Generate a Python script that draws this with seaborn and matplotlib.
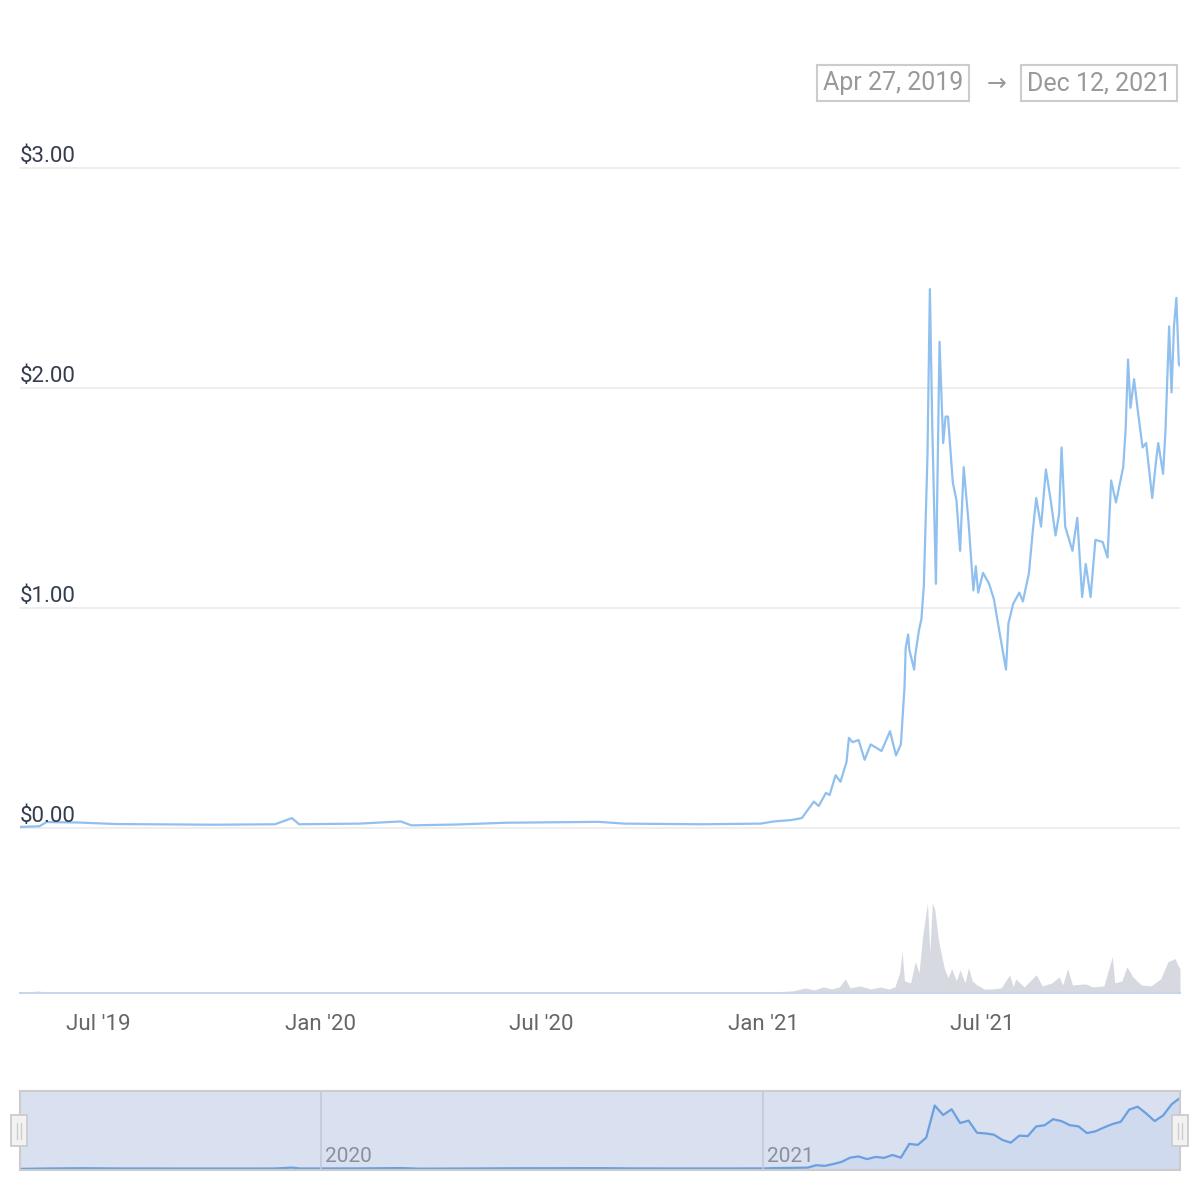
import matplotlib.pyplot as plt
import matplotlib.dates as mdates
import matplotlib.transforms as mtransforms
from matplotlib.patches import Rectangle
from matplotlib.lines import Line2D
import pandas as pd
import seaborn as sns

# price (USD)
price_dates = [
    "2019-04-27", "2019-05-13", "2019-05-19", "2019-06-14", "2019-07-16", "2019-10-05",
    "2019-11-24", "2019-12-08", "2019-12-14", "2020-02-02", "2020-03-07", "2020-03-16",
    "2020-04-23", "2020-06-02", "2020-08-18", "2020-09-08", "2020-11-11", "2020-12-30",
    "2021-01-10", "2021-01-24", "2021-02-02", "2021-02-12", "2021-02-16", "2021-02-22",
    "2021-02-25", "2021-03-02", "2021-03-06", "2021-03-11", "2021-03-13", "2021-03-16",
    "2021-03-21", "2021-03-26", "2021-03-31", "2021-04-09", "2021-04-16", "2021-04-21",
    "2021-04-25", "2021-04-28", "2021-04-29", "2021-05-01", "2021-05-02", "2021-05-06",
    "2021-05-07", "2021-05-10", "2021-05-12", "2021-05-14", "2021-05-17", "2021-05-19",
    "2021-05-21", "2021-05-24", "2021-05-27", "2021-05-30", "2021-06-01", "2021-06-03",
    "2021-06-07", "2021-06-10", "2021-06-13", "2021-06-16", "2021-06-20", "2021-06-24",
    "2021-06-26", "2021-06-28", "2021-07-02", "2021-07-07", "2021-07-11", "2021-07-15",
    "2021-07-21", "2021-07-23", "2021-07-27", "2021-08-01", "2021-08-04", "2021-08-09",
    "2021-08-12", "2021-08-15", "2021-08-19", "2021-08-23", "2021-08-27", "2021-08-31",
    "2021-09-03", "2021-09-05", "2021-09-08", "2021-09-14", "2021-09-18", "2021-09-22",
    "2021-09-25", "2021-09-29", "2021-10-03", "2021-10-09", "2021-10-13", "2021-10-16",
    "2021-10-20", "2021-10-26", "2021-10-28", "2021-10-30", "2021-11-01", "2021-11-04",
    "2021-11-07", "2021-11-11", "2021-11-14", "2021-11-19", "2021-11-22", "2021-11-24",
    "2021-11-28", "2021-11-30", "2021-12-03", "2021-12-05", "2021-12-07", "2021-12-09",
    "2021-12-11", "2021-12-12",
]
price_usd = [
    0.005, 0.008, 0.027, 0.025, 0.018, 0.015,
    0.017, 0.045, 0.017, 0.020, 0.030, 0.012,
    0.016, 0.024, 0.028, 0.020, 0.017, 0.020,
    0.030, 0.036, 0.045, 0.12, 0.10, 0.16,
    0.15, 0.24, 0.21, 0.30, 0.41, 0.39,
    0.40, 0.31, 0.38, 0.35, 0.44, 0.33,
    0.38, 0.64, 0.82, 0.88, 0.81, 0.72,
    0.79, 0.90, 0.95, 1.10, 1.69, 2.45,
    1.82, 1.11, 2.21, 1.75, 1.87, 1.87,
    1.57, 1.49, 1.26, 1.64, 1.39, 1.08,
    1.19, 1.07, 1.16, 1.11, 1.04, 0.91,
    0.72, 0.93, 1.02, 1.07, 1.03, 1.16,
    1.34, 1.50, 1.37, 1.63, 1.49, 1.33,
    1.43, 1.73, 1.37, 1.26, 1.41, 1.05,
    1.20, 1.05, 1.31, 1.30, 1.23, 1.58,
    1.48, 1.64, 1.81, 2.13, 1.91, 2.04,
    1.90, 1.73, 1.75, 1.50, 1.66, 1.75,
    1.61, 1.81, 2.28, 1.98, 2.28, 2.41,
    2.11, 2.10,
]

# 24h volume (USD millions)
vol_dates = [
    "2019-04-27", "2019-05-12", "2019-05-20", "2019-07-01", "2019-10-01", "2019-12-08",
    "2019-12-20", "2020-03-12", "2020-06-01", "2020-09-01", "2020-12-15",
    "2021-01-01", "2021-01-25", "2021-02-05", "2021-02-12", "2021-02-20", "2021-02-27",
    "2021-03-05", "2021-03-10", "2021-03-14", "2021-03-22", "2021-03-31", "2021-04-08",
    "2021-04-15", "2021-04-20", "2021-04-24", "2021-04-26", "2021-04-28", "2021-05-03",
    "2021-05-07", "2021-05-10", "2021-05-13", "2021-05-17", "2021-05-19", "2021-05-21",
    "2021-05-23", "2021-05-26", "2021-05-28", "2021-05-31", "2021-06-03", "2021-06-06",
    "2021-06-10", "2021-06-13", "2021-06-17", "2021-06-20", "2021-06-23", "2021-06-27",
    "2021-07-03", "2021-07-10", "2021-07-17", "2021-07-24", "2021-07-27", "2021-07-29",
    "2021-08-05", "2021-08-15", "2021-08-20", "2021-08-28", "2021-09-03", "2021-09-06",
    "2021-09-10", "2021-09-14", "2021-09-25", "2021-10-01", "2021-10-10", "2021-10-17",
    "2021-10-19", "2021-10-25", "2021-10-29", "2021-11-03", "2021-11-10", "2021-11-18",
    "2021-11-26", "2021-12-02", "2021-12-08", "2021-12-10", "2021-12-12",
]
vol_usd_m = [
    20, 140, 40, 30, 30, 100,
    30, 60, 30, 60, 30,
    40, 140, 350, 210, 420, 280,
    420, 980, 350, 490, 280, 420,
    280, 420, 1400, 2870, 840, 700,
    2170, 1400, 3920, 6230, 2800, 6230,
    5810, 3710, 2870, 1680, 1050, 1680,
    840, 1610, 700, 1750, 840, 560,
    280, 280, 350, 1260, 420, 980,
    420, 1260, 490, 700, 1120, 560,
    1680, 560, 630, 420, 490, 2520,
    700, 840, 1820, 1120, 560, 490,
    980, 2170, 2380, 1960, 1680,
]

y_ticks = [0, 1, 2, 3]
x_ticks = ["2019-07-01", "2020-01-01", "2020-07-01", "2021-01-01", "2021-07-01"]
nav_years = ["2020-01-01", "2021-01-01"]
date_from = "Apr 27, 2019"
date_to = "Dec 12, 2021"

price = pd.DataFrame({"date": pd.to_datetime(price_dates), "price": price_usd})
vol = pd.DataFrame({"date": pd.to_datetime(vol_dates), "volume": vol_usd_m})
x0, x1 = pd.Timestamp("2019-04-27"), pd.Timestamp("2021-12-12")

sns.set_style("white")
plt.rcParams["font.family"] = ["Roboto", "DejaVu Sans"]

W = H = 1200
fig = plt.figure(figsize=(12, 12), dpi=100)


def px_box(l, t, r, b):
    return [l / W, 1 - b / H, (r - l) / W, (b - t) / H]


line_col = "#7cb5ec"

# main price chart + volume
ax = fig.add_axes(px_box(20, 130, 1180, 993))
axv = ax.twinx()
ax.set_zorder(axv.get_zorder() + 1)
ax.patch.set_visible(False)

axv.fill_between(vol["date"], vol["volume"], 0, color="#d6d9e0", lw=0)
axv.set_ylim(0, max(vol_usd_m) * 863 / 90)
axv.set_yticks([])
for s in axv.spines.values():
    s.set_visible(False)

sns.lineplot(data=price, x="date", y="price", ax=ax, color=line_col, lw=1.6, alpha=0.85)
ax.set_xlim(x0, x1)
ax.set_ylim(-0.75, 3.173)
ax.set_xlabel("")
ax.set_ylabel("")

ax.set_yticks(y_ticks)
ax.yaxis.grid(True, color="#ebebeb", lw=1.2)
ax.tick_params(axis="y", length=0, labelleft=False)
trans = mtransforms.blended_transform_factory(ax.transAxes, ax.transData)
for v in y_ticks:
    ax.text(0, v + 0.006, f"${v:.2f}", transform=trans, ha="left", va="bottom",
            fontsize=16, color="#333d4f")

ax.set_xticks(pd.to_datetime(x_ticks))
ax.xaxis.set_major_formatter(mdates.DateFormatter("%b '%y"))
ax.tick_params(axis="x", length=12, width=1.2, color="#ccd6eb", labelsize=16,
               labelcolor="#666666", pad=3)
for side in ["top", "left", "right"]:
    ax.spines[side].set_visible(False)
ax.spines["bottom"].set_color("#ccd6eb")
ax.spines["bottom"].set_linewidth(1.5)

# date range boxes
box_style = dict(boxstyle="square,pad=0.25", fc="white", ec="#cccccc", lw=1.5)
fig.text(893 / W, 1 - 83 / H, date_from, ha="center", va="center", fontsize=18,
         color="#999999", bbox=box_style)
fig.text(1099 / W, 1 - 83 / H, date_to, ha="center", va="center", fontsize=18,
         color="#999999", bbox=box_style)
fig.text(997 / W, 1 - 84 / H, "\u2192", ha="center", va="center", fontsize=17,
         color="#999999", family=["DejaVu Sans"])

# navigator (weekly averages of the price series)
weekly = price.set_index("date")["price"].resample("W").mean().dropna()
nav = fig.add_axes(px_box(20, 1091, 1180, 1170))
nav.set_facecolor("#d9e0ef")
nav.fill_between(weekly.index, weekly.values, -0.1, color="#cfdaee", lw=0)
nav.plot(weekly.index, weekly.values, color="#6a9fe0", lw=1.6)
nav.set_xlim(x0, x1)
nav.set_ylim(-0.03, weekly.max() * 79 / 72)
nav.set_xticks([])
nav.set_yticks([])
for s in nav.spines.values():
    s.set_color("#cccccc")
    s.set_linewidth(1.5)
ntrans = mtransforms.blended_transform_factory(nav.transData, nav.transAxes)
for d in pd.to_datetime(nav_years):
    nav.axvline(d, color="#c3c9d6", lw=1.2)
    nav.text(d + pd.Timedelta(days=3), 0.05, str(d.year), transform=ntrans,
             ha="left", va="bottom", fontsize=15, color="#8a8f99")

# navigator handles
for cx in (19, 1180):
    fig.add_artist(Rectangle(((cx - 8) / W, 1 - 1146 / H), 16 / W, 31 / H,
                             transform=fig.transFigure, fc="#f2f2f2", ec="#cccccc", lw=1.3))
    for dx in (-2, 2):
        fig.add_artist(Line2D([(cx + dx) / W] * 2, [1 - 1139 / H, 1 - 1123 / H],
                              transform=fig.transFigure, color="#cccccc", lw=1))

fig.savefig("out.png", dpi=100)
